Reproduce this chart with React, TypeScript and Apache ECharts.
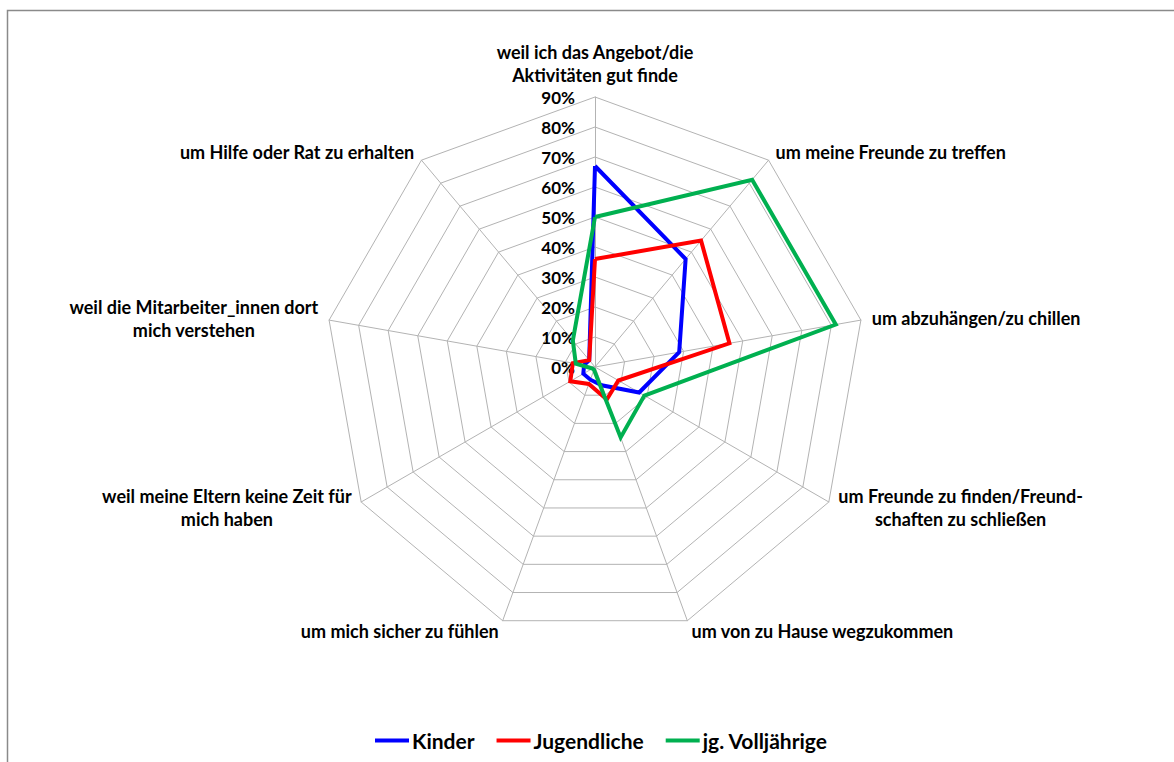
import React, { useEffect, useRef } from "react";
import * as echarts from "echarts";

const categories = [
  "weil ich das Angebot/die\nAktivitäten gut finde",
  "um meine Freunde zu treffen",
  "um abzuhängen/zu chillen",
  "um Freunde zu finden/Freund-\nschaften zu schließen",
  "um von zu Hause wegzukommen",
  "um mich sicher zu fühlen",
  "weil meine Eltern keine Zeit für\nmich haben",
  "weil die Mitarbeiter_innen dort\nmich verstehen",
  "um Hilfe oder Rat zu erhalten",
];

const seriesNames = ["Kinder", "Jugendliche", "jg. Volljährige"];
const kinder = [67, 47, 28.5, 17, 6.5, 4.5, 4.5, 3.7, 3];
const jugendliche = [36, 55, 45.5, 9, 11.5, 6, 9.5, 7.5, 3];
const volljaehrige = [50, 81.5, 81.5, 19, 25, 1, 1, 6.5, 11.5];
const seriesColors = ["#0000FF", "#FF0000", "#00B050"];

const axisMax = 90;
const axisSplits = 9;

const FONT = "Lato";

// ECharts lays radar axes counter-clockwise; the reference runs clockwise,
// so keep the first axis on top and reverse the rest.
const order = categories.map((_, i) => (i === 0 ? 0 : categories.length - i));
const reorder = <T,>(arr: T[]) => order.map((k) => arr[k]);

export default function App() {
  const ref = useRef<HTMLDivElement>(null);

  useEffect(() => {
    if (!ref.current) return;
    const chart = echarts.init(ref.current, undefined, { renderer: "svg" });
    const values = [kinder, jugendliche, volljaehrige];
    chart.setOption({
      animation: false,
      backgroundColor: "#ffffff",
      graphic: [
        {
          type: "rect",
          shape: { x: 7.5, y: 10.5, width: 1300, height: 900 },
          style: { fill: "none", stroke: "#8a8a8a", lineWidth: 1.5 },
          silent: true,
        },
      ],
      legend: {
        bottom: 6,
        left: 370,
        icon: "rect",
        itemWidth: 34,
        itemHeight: 4,
        itemGap: 22,
        data: seriesNames,
        textStyle: {
          fontFamily: FONT,
          fontWeight: "bold",
          fontSize: 21,
          color: "#000",
          padding: [0, 0, 0, -2],
        },
      },
      radar: {
        center: [595, 367],
        radius: 270,
        startAngle: 90,
        shape: "polygon",
        splitNumber: axisSplits,
        nameGap: 11,
        axisName: {
          color: "#000",
          fontFamily: FONT,
          fontWeight: "bold",
          fontSize: 18,
          lineHeight: 23,
          formatter: (name: string) =>
            name
              .split("\n")
              .map((l) => `{c|${l}}`)
              .join("\n"),
          rich: {
            c: {
              align: "center",
              color: "#000",
              fontFamily: FONT,
              fontWeight: "bold",
              fontSize: 18,
              lineHeight: 23,
            },
          },
        },
        axisLine: { lineStyle: { color: "#b3b3b3", width: 1 } },
        splitLine: { lineStyle: { color: "#b3b3b3", width: 1 } },
        splitArea: { show: false },
        axisTick: { show: false },
        axisLabel: { show: false },
        indicator: reorder(categories).map((name, i) => ({
          name,
          min: 0,
          max: axisMax,
          ...(i === 0
            ? {
                axisLabel: {
                  show: true,
                  formatter: "{value}%",
                  margin: 20,
                  color: "#000",
                  fontFamily: FONT,
                  fontWeight: "bold",
                  fontSize: 17,
                },
              }
            : {}),
        })),
      },
      series: [
        {
          type: "radar",
          symbol: "none",
          data: seriesNames.map((n, i) => ({
            name: n,
            value: reorder(values[i]),
            lineStyle: { color: seriesColors[i], width: 4, join: "miter" },
            itemStyle: { color: seriesColors[i] },
          })),
        },
      ],
    });
    return () => chart.dispose();
  }, []);

  return (
    <div
      ref={ref}
      style={{
        position: "fixed",
        left: 0,
        top: 0,
        width: 1174,
        height: 762,
        background: "#fff",
      }}
    />
  );
}
